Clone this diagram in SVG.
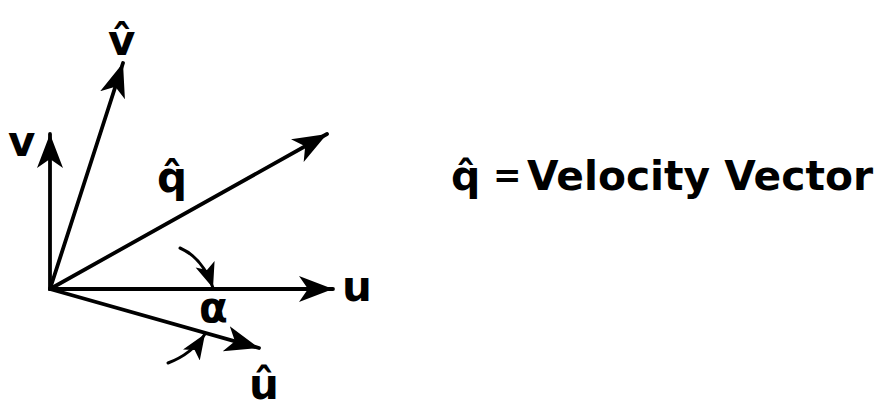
<svg xmlns="http://www.w3.org/2000/svg" width="888" height="410" viewBox="0 0 888 410">
<style>
.ax{stroke:#000;stroke-width:3.8;fill:none;stroke-linecap:round}
.arc{stroke:#000;stroke-width:3;fill:none;stroke-linecap:round}
.lbl{font-family:"DejaVu Sans","Liberation Sans",sans-serif;font-size:42px;font-weight:bold;fill:#000}
.txt{font-family:"DejaVu Sans","Liberation Sans",sans-serif;font-size:41px;font-weight:bold;fill:#000}
</style>
<defs>
<marker id="ah" markerUnits="userSpaceOnUse" markerWidth="38" markerHeight="28" refX="34" refY="13" orient="auto">
<path d="M0,0 L34,13 L0,26 L9,13 z" fill="#000"/>
</marker>
<marker id="sh" markerUnits="userSpaceOnUse" markerWidth="28" markerHeight="22" refX="25" refY="10" orient="auto">
<path d="M0,0 L25,10 L0,20 L6,10 z" fill="#000"/>
</marker>
</defs>
<rect width="888" height="410" fill="#fff"/>
<g id="connectors">
<line class="ax" x1="50" y1="289" x2="50" y2="134" marker-end="url(#ah)"/>
<line class="ax" x1="50" y1="289" x2="123" y2="63" marker-end="url(#ah)"/>
<line class="ax" x1="50" y1="289" x2="327" y2="134" marker-end="url(#ah)"/>
<line class="ax" x1="50" y1="289" x2="333" y2="289" marker-end="url(#ah)"/>
<line class="ax" x1="50" y1="289" x2="259" y2="348" marker-end="url(#ah)"/>
<path class="arc" d="M180,248 Q203,258 213,288" marker-end="url(#sh)"/>
<path class="arc" d="M168,363 Q192,354 205,334" marker-end="url(#sh)"/>
</g>
<g id="label-v"><text class="lbl" x="8" y="156">v</text></g>
<g id="label-vhat"><text class="lbl" x="108" y="55">v̂</text></g>
<g id="label-qhat"><text class="lbl" x="157" y="192">q̂</text></g>
<g id="label-u"><text class="lbl" x="342" y="301">u</text></g>
<g id="label-alpha"><text class="lbl" x="199" y="322">α</text></g>
<g id="label-uhat"><text class="lbl" x="249" y="399">û</text></g>
<g id="legend"><text class="txt" y="190"><tspan x="451">q̂</tspan><tspan x="493" y="187" font-size="34">=</tspan><tspan x="527" y="190" textLength="346" lengthAdjust="spacingAndGlyphs">Velocity  Vector</tspan></text></g>
</svg>
